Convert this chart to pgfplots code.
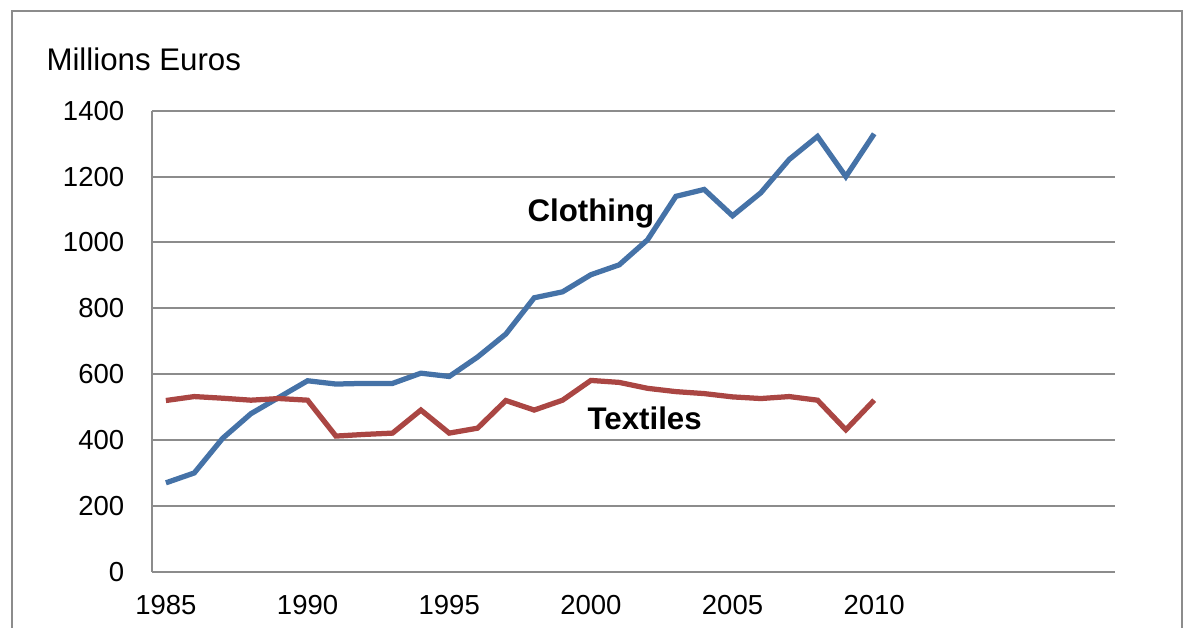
\documentclass[border=0pt]{standalone}
\usepackage{pgfplots}
\pgfplotsset{compat=1.18}
\usepackage{fontspec}
\setmainfont{Liberation Sans}
\definecolor{clothblue}{HTML}{4572A7}
\definecolor{textred}{HTML}{AA4643}
\definecolor{gridgray}{HTML}{8C8C8C}
\begin{document}
\begin{tikzpicture}
\useasboundingbox (0,0) rectangle (474.4pt,251.2pt);
% outer frame, cut off at the bottom
\draw[gridgray, line width=0.8pt] (4.8pt,-5pt) -- (4.8pt,246.8pt) -- (472.8pt,246.8pt) -- (472.8pt,-5pt);
\begin{axis}[
    at={(60.7pt,22.5pt)}, anchor=south west,
    scale only axis,
    width=385.3pt, height=184.4pt,
    xmin=1984.5, xmax=2018.5,
    ymin=0, ymax=1400,
    xtick={1985,1990,1995,2000,2005,2010},
    ytick={0,200,...,1400},
    major tick length=0pt,
    axis x line*=bottom, axis y line*=left,
    axis line style={gridgray, line width=0.8pt},
    ymajorgrids,
    major grid style={gridgray, line width=0.8pt},
    /pgf/number format/assume math mode=true,
    /pgf/number format/1000 sep={},
    ticklabel style={font=\fontsize{11}{13}\selectfont},
    yticklabel style={xshift=-7.5pt},
    xticklabel style={yshift=-6pt},
    clip=false,
]
\addplot[clothblue, line width=2.1pt] coordinates {
(1985,270) (1986,300) (1987,405) (1988,480) (1989,530) (1990,580)
(1991,570) (1992,572) (1993,572) (1994,603) (1995,593) (1996,652)
(1997,722) (1998,832) (1999,850) (2000,902) (2001,932) (2002,1008)
(2003,1140) (2004,1161) (2005,1081) (2006,1151) (2007,1252) (2008,1322)
(2009,1200) (2010,1330)
};
\addplot[textred, line width=2.1pt] coordinates {
(1985,520) (1986,532) (1987,527) (1988,521) (1989,526) (1990,521)
(1991,412) (1992,417) (1993,421) (1994,491) (1995,421) (1996,436)
(1997,520) (1998,491) (1999,521) (2000,581) (2001,575) (2002,557)
(2003,547) (2004,541) (2005,531) (2006,526) (2007,532) (2008,521)
(2009,431) (2010,521)
};
\node[font=\fontsize{12.5}{14}\selectfont\bfseries] at (axis cs:2000,1087) {Clothing};
\node[font=\fontsize{12.5}{14}\selectfont\bfseries] at (axis cs:2001.9,465) {Textiles};
\end{axis}
\node[anchor=base west, font=\fontsize{12.5}{14}\selectfont, inner sep=0pt] at (18.4pt,222.8pt) {Millions Euros};
\end{tikzpicture}
\end{document}
